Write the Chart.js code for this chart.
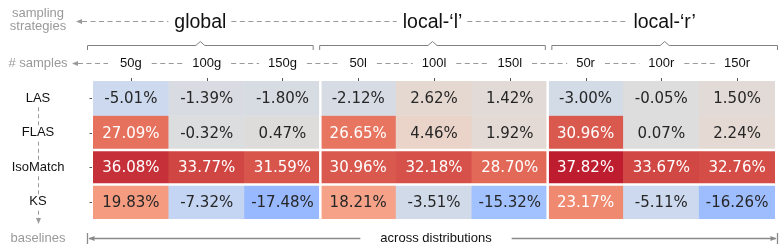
<!DOCTYPE html>
<html>
<head>
<meta charset="utf-8">
<script src="https://cdn.jsdelivr.net/npm/chart.js@4.4.1/dist/chart.umd.min.js"></script>
<style>
  html, body { margin: 0; padding: 0; background: #fff; }
  #wrap { position: relative; width: 781px; height: 252px; }
</style>
</head>
<body>
<div id="wrap"><canvas id="heat"></canvas></div>
<script>
// sampling strategies (column groups) and sample sizes (columns)
const strategies = ['global', 'local-\u2018l\u2019', 'local-\u2018r\u2019'];
const sampleLabels = ['50g', '100g', '150g', '50l', '100l', '150l', '50r', '100r', '150r'];
const baselines = ['LAS', 'FLAS', 'IsoMatch', 'KS'];

// improvement in % per baseline, one value per sample column
const lasValues = [-5.01, -1.39, -1.80, -2.12, 2.62, 1.42, -3.00, -0.05, 1.50];
const flasValues = [27.09, -0.32, 0.47, 26.65, 4.46, 1.92, 30.96, 0.07, 2.24];
const isoMatchValues = [36.08, 33.77, 31.59, 30.96, 32.18, 28.70, 37.82, 33.67, 32.76];
const ksValues = [19.83, -7.32, -17.48, 18.21, -3.51, -15.32, 23.17, -5.11, -16.26];

const colorMin = -40;
const colorMax = 40;

// matplotlib coolwarm, sampled every 1/16
const coolwarm = [
  [59, 76, 192], [77, 104, 215], [98, 130, 234], [119, 154, 247],
  [141, 176, 254], [163, 194, 255], [184, 208, 249], [204, 217, 238],
  [221, 221, 221], [236, 211, 199], [245, 196, 177], [247, 177, 152],
  [244, 154, 127], [236, 127, 103], [222, 96, 82], [203, 62, 62],
  [180, 4, 38]
];

function cmap(v) {
  let t = (v - colorMin) / (colorMax - colorMin);
  t = Math.max(0, Math.min(1, t));
  const pos = t * (coolwarm.length - 1);
  const i = Math.min(Math.floor(pos), coolwarm.length - 2);
  const f = pos - i;
  const a = coolwarm[i], b = coolwarm[i + 1];
  return a.map((c, k) => Math.round(c + (b[k] - c) * f));
}
const rgb = c => `rgb(${c[0]},${c[1]},${c[2]})`;
function textColor(c) {
  const lin = c.map(x => {
    x /= 255;
    return x <= 0.03928 ? x / 12.92 : Math.pow((x + 0.055) / 1.055, 2.4);
  });
  const lum = 0.2126 * lin[0] + 0.7152 * lin[1] + 0.0722 * lin[2];
  return lum > 0.408 ? '#262626' : '#ffffff';
}

const rows = [lasValues, flasValues, isoMatchValues, ksValues];

const datasets = rows.map((vals, r) => ({
  label: baselines[r],
  data: vals.map(() => [r, r + 1]),
  values: vals,
  backgroundColor: vals.map(v => rgb(cmap(v))),
  borderWidth: 0,
  barPercentage: 1,
  categoryPercentage: 1,
  grouped: false
}));

const SANS = '"Liberation Sans", Arial, sans-serif';
const GREY = '#9a9a9a';

function dashH(ctx, x1, x2, y) {
  if (x2 <= x1) return;
  ctx.beginPath();
  ctx.setLineDash([5, 3.5]);
  ctx.moveTo(x1, y);
  ctx.lineTo(x2, y);
  ctx.stroke();
  ctx.setLineDash([]);
}
function dashV(ctx, x, y1, y2) {
  if (y2 <= y1) return;
  ctx.beginPath();
  ctx.setLineDash([4, 3]);
  ctx.moveTo(x, y1);
  ctx.lineTo(x, y2);
  ctx.stroke();
  ctx.setLineDash([]);
}
function arrowHead(ctx, x, y, dir, len, half) {
  // dir: 'left', 'right', 'down'
  ctx.beginPath();
  if (dir === 'left') {
    ctx.moveTo(x, y); ctx.lineTo(x + len, y - half); ctx.lineTo(x + len, y + half);
  } else if (dir === 'right') {
    ctx.moveTo(x, y); ctx.lineTo(x - len, y - half); ctx.lineTo(x - len, y + half);
  } else {
    ctx.moveTo(x, y); ctx.lineTo(x - half, y - len); ctx.lineTo(x + half, y - len);
  }
  ctx.closePath();
  ctx.fill();
}

const decor = {
  id: 'decor',
  afterDatasetsDraw(chart) {
    const { ctx, chartArea: a, scales: { x, y } } = chart;
    ctx.save();

    // white separators between strategy groups and lower baselines
    ctx.strokeStyle = '#ffffff';
    ctx.lineWidth = 2.5;
    [2, 5].forEach(i => {
      const bx = (x.getPixelForValue(i) + x.getPixelForValue(i + 1)) / 2;
      ctx.beginPath(); ctx.moveTo(bx, a.top); ctx.lineTo(bx, a.bottom); ctx.stroke();
    });
    [2, 3].forEach(r => {
      const by = y.getPixelForValue(r);
      ctx.beginPath(); ctx.moveTo(a.left, by); ctx.lineTo(a.right, by); ctx.stroke();
    });

    // cell annotations
    ctx.font = '15px "DejaVu Sans"';
    ctx.textAlign = 'center';
    ctx.textBaseline = 'middle';
    chart.data.datasets.forEach((ds, r) => {
      chart.getDatasetMeta(r).data.forEach((bar, i) => {
        ctx.fillStyle = textColor(cmap(ds.values[i]));
        ctx.fillText(ds.values[i].toFixed(2) + '%', bar.x, (bar.y + bar.base) / 2 + 1);
      });
    });
    ctx.restore();
  },
  afterDraw(chart) {
    const { ctx, chartArea: a, scales: { x, y } } = chart;
    ctx.save();
    const labelX = a.left - 55;

    // ticks
    ctx.strokeStyle = '#555';
    ctx.lineWidth = 1;
    sampleLabels.forEach((_, i) => {
      const cx = Math.round(x.getPixelForValue(i)) + 0.5;
      ctx.beginPath(); ctx.moveTo(cx, a.top - 3); ctx.lineTo(cx, a.top); ctx.stroke();
    });
    baselines.forEach((_, r) => {
      const cy = Math.round(y.getPixelForValue(r + 0.5)) + 0.5;
      ctx.beginPath(); ctx.moveTo(a.left - 3.5, cy); ctx.lineTo(a.left - 1, cy); ctx.stroke();
    });

    // grey axis captions
    ctx.fillStyle = GREY;
    ctx.font = '13px ' + SANS;
    ctx.textAlign = 'center';
    ctx.textBaseline = 'middle';
    ctx.fillText('sampling', labelX, 13);
    ctx.fillText('strategies', labelX, 26.5);
    ctx.fillText('# samples', labelX, 63);
    ctx.fillText('baselines', labelX, 238);

    // strategy headers + brackets
    const spanL = a.left - 6, spanR = a.right + 3, gap = 5.5;
    const segW = (spanR - spanL - 2 * gap) / 3;
    ctx.font = '19.5px ' + SANS;
    const heads = strategies.map((s, g) => {
      const l = spanL + g * (segW + gap);
      return { s, l, r: l + segW, c: l + segW / 2, w: ctx.measureText(s).width };
    });
    ctx.fillStyle = '#111';
    ctx.textBaseline = 'alphabetic';
    heads.forEach(h => ctx.fillText(h.s, h.c, 27.5));

    ctx.strokeStyle = GREY;
    ctx.fillStyle = GREY;
    ctx.lineWidth = 1;
    const topY = 21.5;
    const tip = a.left - 17;
    arrowHead(ctx, tip, topY, 'left', 6, 2.5);
    dashH(ctx, tip + 6, heads[0].c - heads[0].w / 2 - 6, topY);
    for (let g = 0; g < heads.length - 1; g++) {
      dashH(ctx, heads[g].c + heads[g].w / 2 + 5, heads[g + 1].c - heads[g + 1].w / 2 - 6, topY);
    }

    ctx.strokeStyle = '#808080';
    heads.forEach(h => {
      ctx.beginPath();
      ctx.moveTo(h.l + 0.5, 50);
      ctx.lineTo(h.l + 0.5, 45.5);
      ctx.lineTo(h.c - 4.5, 45.5);
      ctx.lineTo(h.c, 41.5);
      ctx.lineTo(h.c + 4.5, 45.5);
      ctx.lineTo(h.r - 0.5, 45.5);
      ctx.lineTo(h.r - 0.5, 50);
      ctx.stroke();
    });

    // sample labels row
    ctx.font = '13px ' + SANS;
    ctx.textBaseline = 'middle';
    ctx.fillStyle = '#111';
    const sampY = 63;
    const samp = sampleLabels.map((s, i) => ({ c: x.getPixelForValue(i), w: ctx.measureText(s).width }));
    sampleLabels.forEach((s, i) => ctx.fillText(s, samp[i].c, sampY));
    ctx.strokeStyle = GREY;
    ctx.fillStyle = GREY;
    const tip2 = a.left - 21;
    arrowHead(ctx, tip2, sampY + 0.5, 'left', 6, 2.5);
    dashH(ctx, tip2 + 6, samp[0].c - samp[0].w / 2 - 12, sampY + 0.5);
    for (let i = 0; i < samp.length - 1; i++) {
      dashH(ctx, samp[i].c + samp[i].w / 2 + 10, samp[i + 1].c - samp[i + 1].w / 2 - 9, sampY + 0.5);
    }

    // baseline row labels with dashed guide
    ctx.fillStyle = '#111';
    const rowY = baselines.map((_, r) => y.getPixelForValue(r + 0.5));
    baselines.forEach((b, r) => ctx.fillText(b, labelX, rowY[r]));
    ctx.strokeStyle = GREY;
    ctx.fillStyle = GREY;
    const vx = labelX + 0.5;
    for (let r = 0; r < rowY.length - 1; r++) {
      dashV(ctx, vx, rowY[r] + 9, rowY[r + 1] - 7);
    }
    dashV(ctx, vx, rowY[rowY.length - 1] + 9, a.bottom + 0);
    arrowHead(ctx, vx, a.bottom + 5, 'down', 6, 2.5);

    // bottom "across distributions" axis
    const by = 238.5;
    const bl = a.left - 6, br = a.right + 3;
    const caption = 'across distributions';
    ctx.font = '13px ' + SANS;
    const cw = ctx.measureText(caption).width;
    const cc = (a.left + a.right) / 2 + 2;
    ctx.fillStyle = '#111';
    ctx.fillText(caption, cc, by);
    ctx.strokeStyle = '#8a8a8a';
    ctx.fillStyle = '#8a8a8a';
    ctx.lineWidth = 1.3;
    ctx.beginPath();
    ctx.moveTo(bl + 0.5, by - 5.5); ctx.lineTo(bl + 0.5, by + 5.5);
    ctx.moveTo(br - 0.5, by - 5.5); ctx.lineTo(br - 0.5, by + 5.5);
    ctx.moveTo(bl + 2, by); ctx.lineTo(cc - cw / 2 - 20, by);
    ctx.moveTo(cc + cw / 2 + 20, by); ctx.lineTo(br - 2, by);
    ctx.stroke();
    arrowHead(ctx, bl + 1.5, by, 'left', 6, 2.5);
    arrowHead(ctx, br - 1.5, by, 'right', 6, 2.5);

    ctx.restore();
  }
};

new Chart(document.getElementById('heat'), {
  type: 'bar',
  data: { labels: sampleLabels, datasets },
  options: {
    responsive: true,
    maintainAspectRatio: false,
    animation: false,
    layout: { padding: { left: 93, right: 6, top: 81, bottom: 33 } },
    plugins: { legend: { display: false }, tooltip: { enabled: false } },
    scales: {
      x: { display: false, offset: true },
      y: { display: false, min: 0, max: 4, reverse: true }
    }
  },
  plugins: [decor]
});
</script>
</body>
</html>
